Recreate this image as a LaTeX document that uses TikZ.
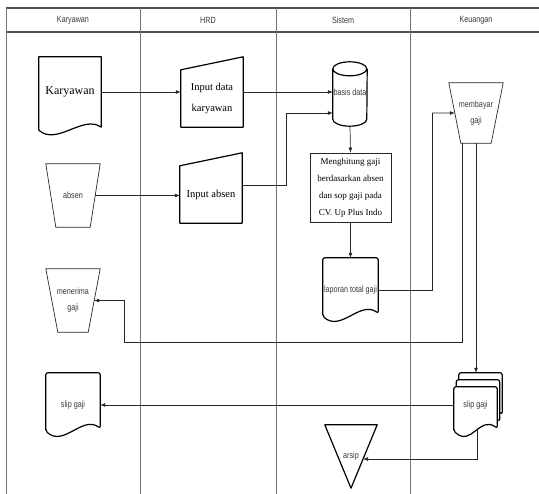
\documentclass[tikz,border=0pt]{standalone}
\usepackage{fontspec}
\setmainfont{Liberation Serif}
\setsansfont{Liberation Sans}[FakeStretch=0.8]
\usepackage{tikz}
\usetikzlibrary{arrows.meta,calc}
\definecolor{laneGray} {gray}{0.45}
\definecolor{labelGray}{gray}{0.22}
\definecolor{lineDark} {gray}{0.15}
% outlines drawn round invisible named nodes
\newcommand{\docoutline}[2][]{%
  \draw[shapeline,#1] ($(#2.south west)+(0,3)$) -- (#2.north west) -- (#2.north east)
    -- (#2.south east) .. controls +(-18,-13) and +(18,16) .. ($(#2.south west)+(0,3)$) -- cycle;}
\newcommand{\inputoutline}[1]{%
  \draw[shapeline] (#1.north west) -- ([yshift=13pt]#1.north east) -- (#1.south east)
    -- (#1.south west) -- cycle;}
\newcommand{\manopoutline}[2]{%
  \draw[thinshape] (#1.north west) -- (#1.north east) -- ([xshift=-#2pt]#1.south east)
    -- ([xshift=#2pt]#1.south west) -- cycle;}
\newcommand{\mergeoutline}[1]{%
  \draw[shapeline] (#1.north west) -- (#1.north east) -- (#1.south) -- cycle;}
\newcommand{\dboutline}[1]{%
  \draw[shapeline] ([yshift=-7pt]#1.north west)
    arc[start angle=180,end angle=360,x radius=17pt,y radius=7pt]
    arc[start angle=0,end angle=180,x radius=17pt,y radius=7pt]
    -- ([yshift=7pt]#1.south west)
    arc[start angle=180,end angle=360,x radius=17pt,y radius=7pt]
    -- ([yshift=-7pt]#1.north east);}

\begin{document}
\begin{tikzpicture}[x=1pt,y=-1pt,
    lanerule/.style={draw=laneGray, line width=0.8pt},
    headrule/.style={draw=laneGray!70!black, line width=1.3pt},
    lanehead/.style={font=\sffamily\fontsize{9}{10}\selectfont, text=labelGray},
    box/.style={inner sep=0pt, align=center},
    smalltxt/.style={box, font=\sffamily\fontsize{9}{16}\selectfont, text=labelGray},
    bigtxt/.style={box, font=\fontsize{12}{14}\selectfont},
    inputtxt/.style={box, font=\fontsize{10.5}{21}\selectfont},
    proctxt/.style={box, font=\fontsize{9}{17}\selectfont},
    shapeline/.style={draw=black, line width=1.2pt, line join=round},
    thinshape/.style={draw=lineDark, line width=0.7pt, line join=round},
    flow/.style={draw=lineDark, line width=0.7pt, -{Latex[length=5pt,width=4pt]}},
    plain/.style={draw=lineDark, line width=0.7pt}]
  \useasboundingbox (0,0) rectangle (539,494);

  % swimlanes
  \draw[headrule] (6,8) -- (539,8);
  \draw[headrule] (6,32) -- (539,32);
  \foreach \lx in {6,140,276,410}
    \draw[lanerule] (\lx,8) -- (\lx,494);
  \node[lanehead] (hkar) at (73,20)  {Karyawan};
  \node[lanehead] (hhrd) at (208,20) {HRD};
  \node[lanehead] (hsis) at (343,20) {Sistem};
  \node[lanehead] (hkeu) at (476,20) {Keuangan};

  % Karyawan
  \node[bigtxt, minimum width=62pt, minimum height=70pt] (kar) at (70,92) {Karyawan};
  \docoutline{kar}
  \node[smalltxt, minimum width=54pt, minimum height=63pt] (absen) at (73,195.5) {absen};
  \manopoutline{absen}{10}
  \node[smalltxt, minimum width=54pt, minimum height=63pt] (terima) at (73,300.5) {menerima\\gaji};
  \manopoutline{terima}{12}
  \node[box, minimum width=54pt, minimum height=55pt] (slipkry) at (73,400.5) {};
  \docoutline[rounded corners=2pt]{slipkry}
  \node[smalltxt] at (73,405) {slip gaji};

  % HRD
  \node[inputtxt, minimum width=62pt, minimum height=57pt] (inkar) at (212,98.5) {Input data\\karyawan};
  \inputoutline{inkar}
  \node[inputtxt, minimum width=62pt, minimum height=57pt] (inabs) at (211,194.5) {Input absen};
  \inputoutline{inabs}

  % Sistem
  \node[box, minimum width=34pt, minimum height=64pt] (db) at (350,94) {};
  \dboutline{db}
  \node[smalltxt] at (350,92) {basis data};
  \node[proctxt, draw=lineDark, line width=0.8pt, minimum width=81pt, minimum height=69pt]
    (hitung) at (350.5,187.5) {Menghitung gaji\\berdasarkan absen\\dan sop gaji pada\\CV. Up Plus Indo};
  \node[box, minimum width=55pt, minimum height=55pt] (lapor) at (350.5,285.5) {};
  \docoutline[rounded corners=2pt]{lapor}
  \node[smalltxt] at (350.5,290) {laporan total gaji};
  \node[smalltxt, minimum width=52pt, minimum height=63pt] (arsip) at (351,456.5) {arsip};
  \mergeoutline{arsip}

  % Keuangan
  \node[smalltxt, minimum width=54pt, minimum height=60pt] (bayar) at (476,113) {membayar\\gaji};
  \manopoutline{bayar}{12}
  \node[box, minimum width=43pt, minimum height=41pt] (slipkeuc) at (480.5,393.5) {};
  \node[box, minimum width=43pt, minimum height=41pt] (slipkeub) at (478,400.5) {};
  \docoutline[rounded corners=2pt, fill=white]{slipkeuc}
  \docoutline[rounded corners=2pt, fill=white]{slipkeub}
  \node[box, minimum width=43pt, minimum height=41pt] (slipkeu) at (475.5,407.5) {};
  \docoutline[rounded corners=2pt, fill=white]{slipkeu}
  \node[smalltxt] at (475.5,405) {slip gaji};

  % connectors
  \coordinate (bendabs)  at (286,113);
  \coordinate (bendlap)  at (432,113);
  \coordinate (bendgaji) at (124,342);
  \draw[flow] (kar.east) -- (kar.east -| inkar.west);
  \draw[flow] (inkar.east |- kar.east) -- (kar.east -| db.west);
  \draw[flow] ([xshift=-5pt]absen.east) -- (absen.east -| inabs.west);
  \draw[plain] ([yshift=9.5pt]inabs.east) -| (bendabs);
  \draw[flow] (bendabs) -- (bendabs -| db.west);
  \draw[flow] (db.south) -- (hitung.north);
  \draw[flow] (hitung.south) -- (lapor.north);
  \draw[plain] ([yshift=-4.5pt]lapor.east) -| (bendlap);
  \draw[flow] (bendlap) -- ($(bayar.north west)!0.5!([xshift=12pt]bayar.south west)$);
  \draw[plain] ([xshift=-14pt]bayar.south) |- (bendgaji);
  \draw[flow] (bendgaji) |- ($(terima.north east)!0.5!([xshift=-12pt]terima.south east)$);
  \draw[flow] (bayar.south) -- (bayar.south |- slipkeuc.north);
  \draw[flow] ([yshift=2.5pt]slipkeu.west) -- ([yshift=2.5pt]slipkeu.west -| slipkry.east);
  \draw[flow] ([xshift=2pt]slipkeu.south) |- ($(arsip.north east)!0.54!(arsip.south)$);
\end{tikzpicture}
\end{document}
